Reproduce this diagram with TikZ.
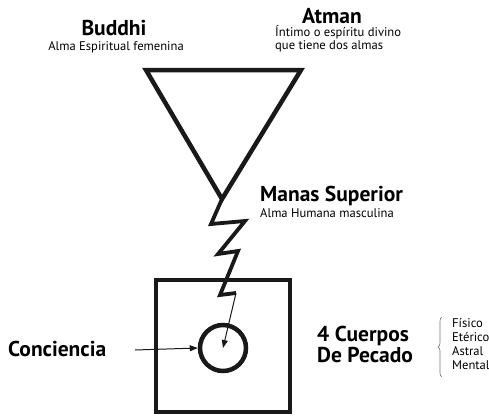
\documentclass[tikz,border=0pt]{standalone}
\usepackage{fontspec}
\setmainfont{PT Sans}
\usetikzlibrary{arrows.meta,decorations.pathreplacing}
\begin{document}
\begin{tikzpicture}[x=1pt,y=-1pt,
  thick line/.style={line width=4.5pt,line join=miter,draw=black!90},
  zig/.style={line width=3.8pt,line join=miter,draw=black!90},
  thin arrow/.style={line width=1pt,draw=black!90,-{Triangle[length=8pt,width=6pt]}},
  big/.style={font=\fontsize{21.5}{19}\selectfont\bfseries,inner sep=0pt},
  small/.style={font=\fontsize{12.6}{11}\selectfont,inner sep=0pt},
  tiny/.style={font=\fontsize{12.6}{13.7}\selectfont,inner sep=0pt}]
\useasboundingbox (0,0) rectangle (489,415);
% triangle
\coordinate (tl) at (146,70);
\coordinate (tr) at (301,70);
\coordinate (apex) at (222,199);
\draw[thick line] (tl) -- (tr) -- (apex) -- cycle;
% box and circle
\draw[thick line] (156,280) rectangle (290,412);
\node[draw=black!90,line width=4.5pt,circle,minimum size=46pt,inner sep=0pt] (con) at (223,348) {};
% lightning
\coordinate (z1) at (211,224);
\coordinate (z2) at (245,221);
\coordinate (z3) at (218,254);
\coordinate (z4) at (238,251);
\coordinate (z5) at (220,295);
\coordinate (z6) at (236,293);
\draw[zig] (apex) -- (z1) -- (z2) -- (z3) -- (z4) -- (z5) -- (z6);
\draw[thin arrow] (z6) -- (con.center);
% Conciencia
\node[big,anchor=base west] (conlab) at (8,356) {Conciencia};
\coordinate (cstart) at (135,350);
\draw[thin arrow] (cstart) -- (con.west);
% labels
\node[big,anchor=base] (buddhi) at (114,35) {Buddhi};
\node[small,anchor=base] (buddhi2) at (116,50) {Alma Espiritual femenina};
\node[big,anchor=base] (atman) at (332,23) {Atman};
\node[small,anchor=base west,align=left] (atman2) at (275,49) {Íntimo o espíritu divino\\que tiene dos almas};
\node[big,anchor=base west] (manas) at (260,201) {Manas Superior};
\node[small,anchor=base west] (manas2) at (260,217) {Alma Humana masculina};
\node[big,anchor=base west,align=left] (cuerpos) at (317,362) {4 Cuerpos\\De Pecado};
% brace list
\draw[black!55,line width=0.6pt,decorate,decoration={brace,amplitude=4pt}] (442,377) -- (442,317);
\node[tiny,anchor=base west,align=left] (fis) at (452,369) {Físico\\Etérico\\Astral\\Mental};
\end{tikzpicture}
\end{document}
